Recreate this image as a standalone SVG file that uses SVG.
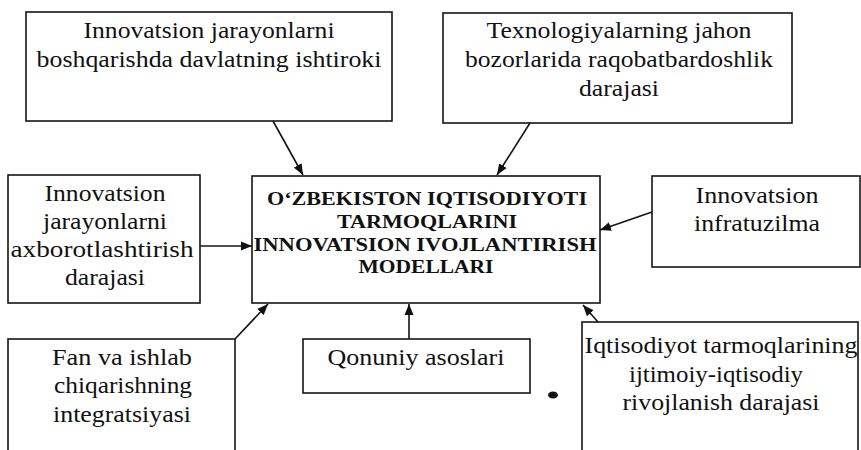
<svg xmlns="http://www.w3.org/2000/svg" width="861" height="450" viewBox="0 0 861 450">
<style>
.box{fill:#fff;stroke:#141414;stroke-width:1.6}
.t{font-family:"Liberation Serif","Times New Roman",serif;font-size:23px;fill:#111;text-anchor:middle}
.b{font-family:"Liberation Serif","Times New Roman",serif;font-size:19px;font-weight:bold;fill:#111;text-anchor:middle}
.c{stroke:#141414;stroke-width:1.6;fill:none;marker-end:url(#ah)}
</style>
<defs>
<marker id="ah" markerWidth="12" markerHeight="10" refX="11" refY="5" orient="auto" markerUnits="userSpaceOnUse">
<path d="M0,0.5 L11,5 L0,9.5 Z" fill="#111"/>
</marker>
</defs>
<rect width="861" height="450" fill="#fff"/>
<g id="n1">
<rect class="box" x="26" y="12" width="366" height="109"/>
<text class="t" x="209" y="38" textLength="251" lengthAdjust="spacingAndGlyphs">Innovatsion jarayonlarni</text>
<text class="t" x="209" y="67" textLength="345" lengthAdjust="spacingAndGlyphs">boshqarishda davlatning ishtiroki</text>
</g>
<g id="n2">
<rect class="box" x="443" y="13" width="349" height="110"/>
<text class="t" x="619" y="38" textLength="265" lengthAdjust="spacingAndGlyphs">Texnologiyalarning jahon</text>
<text class="t" x="619" y="67" textLength="308" lengthAdjust="spacingAndGlyphs">bozorlarida raqobatbardoshlik</text>
<text class="t" x="619" y="96" textLength="80" lengthAdjust="spacingAndGlyphs">darajasi</text>
</g>
<g id="n3">
<rect class="box" x="8" y="175" width="192" height="128"/>
<text class="t" x="105" y="201" textLength="121" lengthAdjust="spacingAndGlyphs">Innovatsion</text>
<text class="t" x="105" y="229" textLength="124" lengthAdjust="spacingAndGlyphs">jarayonlarni</text>
<text class="t" x="102" y="257" textLength="183" lengthAdjust="spacingAndGlyphs">axborotlashtirish</text>
<text class="t" x="105" y="285" textLength="80" lengthAdjust="spacingAndGlyphs">darajasi</text>
</g>
<g id="center">
<rect class="box" x="252" y="176" width="348" height="127"/>
<text class="b" x="427" y="205" textLength="320" lengthAdjust="spacingAndGlyphs">O‘ZBEKISTON IQTISODIYOTI</text>
<text class="b" x="427" y="228" textLength="180" lengthAdjust="spacingAndGlyphs">TARMOQLARINI</text>
<text class="b" x="425" y="251" textLength="343" lengthAdjust="spacingAndGlyphs">INNOVATSION IVOJLANTIRISH</text>
<text class="b" x="426" y="273" textLength="135" lengthAdjust="spacingAndGlyphs">MODELLARI</text>
</g>
<g id="n4">
<rect class="box" x="652" y="176" width="208" height="91"/>
<text class="t" x="757" y="203" textLength="123" lengthAdjust="spacingAndGlyphs">Innovatsion</text>
<text class="t" x="757" y="231" textLength="126" lengthAdjust="spacingAndGlyphs">infratuzilma</text>
</g>
<g id="n5">
<rect class="box" x="8" y="339" width="227" height="125"/>
<text class="t" x="122" y="365" textLength="140" lengthAdjust="spacingAndGlyphs">Fan va ishlab</text>
<text class="t" x="123" y="393" textLength="138" lengthAdjust="spacingAndGlyphs">chiqarishning</text>
<text class="t" x="122" y="422" textLength="138" lengthAdjust="spacingAndGlyphs">integratsiyasi</text>
</g>
<g id="n6">
<rect class="box" x="303" y="339" width="227" height="54"/>
<text class="t" x="416" y="365" textLength="177" lengthAdjust="spacingAndGlyphs">Qonuniy asoslari</text>
</g>
<g id="n7">
<rect class="box" x="582" y="322" width="276" height="140"/>
<text class="t" x="721" y="353" textLength="273" lengthAdjust="spacingAndGlyphs">Iqtisodiyot tarmoqlarining</text>
<text class="t" x="716" y="382" textLength="174" lengthAdjust="spacingAndGlyphs">ijtimoiy-iqtisodiy</text>
<text class="t" x="721" y="410" textLength="197" lengthAdjust="spacingAndGlyphs">rivojlanish darajasi</text>
</g>
<g id="connectors">
<line class="c" x1="273" y1="121" x2="303" y2="175"/>
<line class="c" x1="530" y1="123" x2="497" y2="175"/>
<line class="c" x1="200" y1="246" x2="252" y2="246"/>
<line class="c" x1="652" y1="212" x2="600" y2="230"/>
<line class="c" x1="235" y1="339" x2="268" y2="304"/>
<line class="c" x1="409" y1="339" x2="409" y2="304"/>
<line class="c" x1="598" y1="322" x2="583" y2="305"/>
</g>
<ellipse cx="553" cy="395" rx="5" ry="3.5" fill="#111"/>
</svg>
